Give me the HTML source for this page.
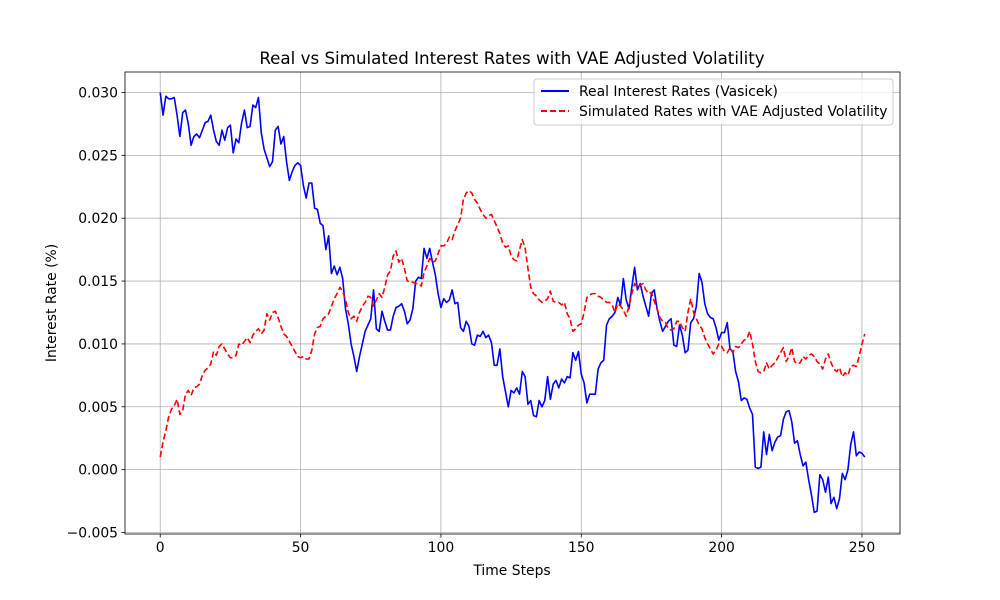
<!DOCTYPE html>
<html><head><meta charset="utf-8"><style>body{margin:0;background:#fff}svg{display:block;font-family:"DejaVu Sans","Liberation Sans",sans-serif}</style></head>
<body>
<svg id="chart" width="1000" height="600" viewBox="0 0 1000 600" xmlns="http://www.w3.org/2000/svg">
<rect width="1000" height="600" fill="#fff"/>
<g id="grid"></g>
<g id="series"></g>
<rect x="125" y="72" width="775" height="462" fill="none" stroke="#000" stroke-width="0.8"/>
<g id="ticks"></g>
<text x="512" y="64" text-anchor="middle" font-size="16.7">Real vs Simulated Interest Rates with VAE Adjusted Volatility</text>
<text x="512" y="575" text-anchor="middle" font-size="13.9">Time Steps</text>
<text transform="translate(56,303) rotate(-90)" text-anchor="middle" font-size="13.9">Interest Rate (%)</text>
<g>
<rect x="534" y="79" width="359" height="46" rx="3" fill="#fff" fill-opacity="0.8" stroke="#ccc"/>
<line x1="541" y1="91" x2="569" y2="91" stroke="#0000ff" stroke-width="2"/>
<text x="579" y="96" font-size="13.9">Real Interest Rates (Vasicek)</text>
<line x1="541" y1="111" x2="569" y2="111" stroke="#ff0000" stroke-width="2" stroke-dasharray="6,3"/>
<text x="579" y="116" font-size="13.9">Simulated Rates with VAE Adjusted Volatility</text>
</g>
</svg>
<script>
const xTicks=[0,50,100,150,200,250];
const yTicks=[-0.005,0,0.005,0.010,0.015,0.020,0.025,0.030];
const yTickLabels=["\u22120.005","0.000","0.005","0.010","0.015","0.020","0.025","0.030"];
const realRates=[30.0,28.2,29.7,29.5,29.5,29.6,28.2,26.5,28.4,28.6,27.5,25.8,26.5,26.7,26.4,27.0,27.6,27.7,28.2,27.0,26.1,25.8,27.0,26.2,27.2,27.4,25.2,26.3,26.0,27.6,28.6,27.2,27.3,29.0,28.8,29.6,26.8,25.5,24.8,24.1,24.5,27.0,27.3,25.9,26.5,24.5,23.0,23.7,24.2,24.4,24.2,22.6,21.6,22.8,22.8,20.8,20.7,19.6,19.4,17.5,18.6,15.6,16.2,15.5,16.1,15.2,12.8,11.6,10.0,9.0,7.8,9.0,10.0,11.0,11.5,12.0,14.3,11.2,11.0,12.6,11.8,11.1,11.1,12.2,12.9,13.0,13.2,12.6,11.6,11.9,12.8,15.0,15.3,15.2,17.6,16.8,17.6,16.5,15.5,14.0,12.9,13.6,13.3,13.5,14.3,13.2,13.3,11.3,11.0,11.8,11.4,10.0,9.9,10.7,10.6,11.0,10.5,10.7,10.1,8.3,8.3,9.6,7.4,6.2,5.0,6.3,6.1,6.5,6.0,7.8,7.4,5.2,5.5,4.3,4.2,5.5,5.0,5.5,7.4,5.6,6.8,7.1,6.5,7.2,6.9,7.4,7.3,9.3,8.7,9.4,7.6,6.9,5.3,6.0,6.0,6.0,8.0,8.5,8.7,11.5,12.0,12.2,12.5,13.7,13.1,15.2,13.5,12.8,14.5,16.1,14.3,14.8,13.8,13.0,12.2,14.0,14.3,12.8,11.8,11.0,11.4,11.8,12.0,9.9,9.8,11.5,10.7,9.3,9.5,11.7,12.0,13.0,15.6,14.9,13.2,12.4,12.1,12.0,11.3,10.3,10.9,10.9,11.7,9.6,9.4,7.8,7.0,5.5,5.7,5.6,4.9,4.4,0.2,0.1,0.2,3.0,1.2,2.8,1.5,2.2,2.6,2.7,4.0,4.6,4.7,3.8,2.1,2.3,1.2,0.3,0.6,-0.8,-2.0,-3.4,-3.3,-0.4,-0.8,-1.8,-0.6,-2.7,-2.2,-3.1,-2.3,-0.3,-0.8,0.0,2.0,3.0,1.1,1.4,1.3,1.0];
const simRates=[1.0,2.2,3.1,4.2,4.8,5.1,5.6,4.4,4.7,6.0,6.3,5.9,6.5,6.6,6.8,7.5,7.9,8.1,8.4,9.4,9.1,9.8,10.0,9.6,9.2,8.9,8.9,9.1,10.0,9.9,10.2,10.5,10.1,10.7,11.0,11.2,10.8,11.1,12.4,11.9,12.5,12.6,12.1,11.4,10.8,10.6,10.2,9.8,9.4,9.0,8.9,9.0,8.8,8.8,9.5,10.8,11.3,11.4,12.0,12.2,12.4,13.0,13.6,14.0,14.5,14.2,13.5,12.5,12.0,12.2,11.8,12.5,13.0,13.3,13.8,13.7,13.0,13.5,14.0,13.7,14.5,15.5,15.8,17.0,17.4,16.5,16.8,16.0,15.0,15.0,14.9,14.8,14.8,14.6,15.7,16.2,16.8,16.5,16.6,17.2,17.8,17.8,18.0,18.5,18.3,19.0,19.5,20.0,21.5,22.0,22.2,22.0,21.5,21.2,20.7,20.3,20.0,20.2,20.3,19.8,19.3,18.8,18.0,17.7,17.8,17.0,16.7,16.6,17.5,18.3,17.6,16.0,14.5,14.0,13.8,13.5,13.3,13.4,13.6,14.2,13.4,13.3,13.3,13.1,13.3,12.4,12.0,11.0,11.2,11.5,11.6,12.5,13.7,13.9,14.0,14.0,13.8,13.7,13.5,13.3,13.3,13.1,12.5,13.2,13.0,12.7,12.2,13.0,14.0,14.8,14.5,14.7,14.8,14.3,14.0,14.1,13.4,12.8,12.1,11.8,11.7,11.2,11.1,11.2,11.8,11.8,11.3,11.0,12.5,13.6,12.5,12.0,11.5,11.2,10.5,10.0,9.6,9.2,9.5,10.0,9.8,9.4,9.3,9.7,9.3,9.8,9.7,10.0,10.3,10.4,11.0,10.0,8.6,7.8,7.7,7.8,8.5,8.0,8.3,8.5,8.9,9.3,9.7,8.6,9.0,9.7,8.6,8.4,8.5,9.0,8.8,9.1,9.2,9.0,8.6,8.4,8.0,8.8,9.2,8.5,8.0,7.8,8.1,7.4,7.7,7.5,8.2,8.3,8.2,9.0,10.0,10.8];
const L=125,R=900,T=72,B=534,xMin=-12.55,xMax=263.55,yMin=-0.00512,yMax=0.03163;
const sx=v=>L+(v-xMin)/(xMax-xMin)*(R-L);
const sy=v=>B-(v-yMin)/(yMax-yMin)*(B-T);
const NS="http://www.w3.org/2000/svg";
function mk(tag,attrs,parent,txt){const e=document.createElementNS(NS,tag);for(const k in attrs)e.setAttribute(k,attrs[k]);if(txt!==undefined)e.textContent=txt;parent.appendChild(e);return e;}
const grid=document.getElementById('grid'),ticks=document.getElementById('ticks'),series=document.getElementById('series');
xTicks.forEach(t=>{const x=sx(t);
 const g=mk('line',{x1:x,x2:x,y1:T,y2:B,stroke:'#b0b0b0','stroke-width':0.8},grid);
 
 
 mk('line',{x1:x,x2:x,y1:B,y2:B+3.5,stroke:'#000','stroke-width':0.8},ticks);
 const tx=mk('text',{x:x,y:B+18,'text-anchor':'middle','font-size':13.9},ticks,String(t));
 
 
});
yTicks.forEach((t,i)=>{const y=sy(t);
 const g=mk('line',{x1:L,x2:R,y1:y,y2:y,stroke:'#b0b0b0','stroke-width':0.8},grid);
 
 
 mk('line',{x1:L-3.5,x2:L,y1:y,y2:y,stroke:'#000','stroke-width':0.8},ticks);
 const tx=mk('text',{x:L-7,y:y+5,'text-anchor':'end','font-size':13.9},ticks,yTickLabels[i]);
 
 
});
function line(arr,color,dash,name){
 const d=arr.map((v,i)=>(i?'L':'M')+sx(i).toFixed(2)+','+sy(v/1000).toFixed(2)).join('');
 const p=mk('path',{d:d,fill:'none',stroke:color,'stroke-width':1.6,'stroke-linejoin':'round'},series);
 if(dash)p.setAttribute('stroke-dasharray',dash);
 
 
}
line(realRates,'#0000ff',null,'real-rates-line');
line(simRates,'#ff0000','6,3','simulated-rates-line');
</script>
</body></html>
